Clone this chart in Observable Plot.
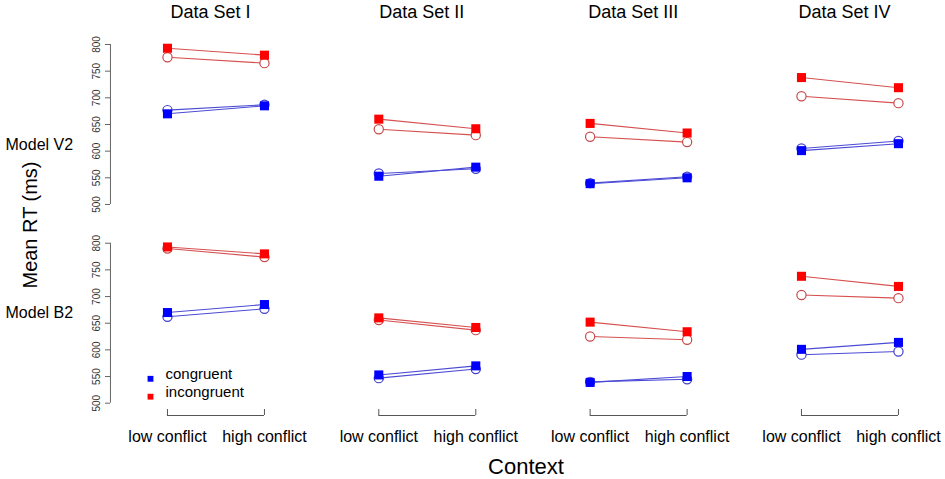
<!DOCTYPE html>
<html><head><meta charset="utf-8">
<script src="https://cdn.jsdelivr.net/npm/d3@7"></script>
<script src="https://cdn.jsdelivr.net/npm/@observablehq/plot@0.6"></script>
<style>
body{margin:0;background:#fff;font-family:"Liberation Sans",Arial,sans-serif;}
#wrap{position:relative;width:945px;height:479px;overflow:hidden;}
.lab{position:absolute;color:#000;white-space:nowrap;transform:translate(-50%,-50%);}
</style></head><body><div id="wrap"></div>
<script>
const datasets = ["Data Set I", "Data Set II", "Data Set III", "Data Set IV"];
const models = ["Model V2", "Model B2"];
const contexts = ["low conflict", "high conflict"];
const conditions = ["congruent", "incongruent"];
const yTicks = [500, 550, 600, 650, 700, 750, 800];

// observed means (filled squares), per data set: [low conflict, high conflict]
const obsCongruent   = [[670, 685], [553, 570], [539, 550], [601, 614]];
const obsIncongruent = [[793, 780], [660, 642], [652, 634], [738, 719]];
// model predictions (open circles)
const v2Congruent    = [[677, 687], [558, 567], [540, 552], [605, 619]];
const v2Incongruent  = [[776, 765], [641, 630], [627, 617], [703, 690]];
const b2Congruent    = [[662, 677], [547, 564], [540, 545], [591, 597]];
const b2Incongruent  = [[790, 774], [656, 637], [625, 619], [703, 697]];

const predictions = {
  "Model V2": {congruent: v2Congruent, incongruent: v2Incongruent},
  "Model B2": {congruent: b2Congruent, incongruent: b2Incongruent}
};
const observed = {congruent: obsCongruent, incongruent: obsIncongruent};

const rows = [];
for (const model of models) {
  datasets.forEach((dataset, i) => {
    for (const condition of conditions) {
      contexts.forEach((context, j) => {
        rows.push({model, dataset, condition, source: "observed", series: condition + "-obs", context, rt: observed[condition][i][j]});
        rows.push({model, dataset, condition, source: "model", series: condition + "-mod", context, rt: predictions[model][condition][i][j]});
      });
    }
  });
}

const fill = {congruent: "#0000ff", incongruent: "#ff0000"};
const lineCol = {congruent: "#4b4bd6", incongruent: "#d65050"};
const circCol = {congruent: "#4040c8", incongruent: "#c84a4a"};

const marks = [
  Plot.axisFx({anchor: "top", tickSize: 0, tickPadding: 27, fontSize: 18, label: null, fill: "#000"}),
  Plot.axisY(yTicks, {anchor: "left", tickSize: 5, tickPadding: 6, tickRotate: -90, fontSize: 10, stroke: "#666", fill: "#333", label: null}),
  Plot.ruleX(models, {fx: () => datasets[0], fy: d => d, x: () => contexts[0], y1: yTicks[0], y2: yTicks[yTicks.length - 1], dx: -57, stroke: "#666"}),
  Plot.axisX({anchor: "bottom", tickSize: 6, tickPadding: 15, dy: 6.3, fontSize: 16, stroke: "#555", fill: "#000", label: null}),
  Plot.ruleY(datasets, {fx: d => d, fy: () => models[1], y: () => yTicks[0], x1: () => contexts[0], x2: () => contexts[1], dy: 12.3, stroke: "#555"})
];

for (const c of conditions) {
  const sub = rows.filter(d => d.condition === c);
  marks.push(Plot.line(sub, {fx: "dataset", fy: "model", x: "context", y: "rt", z: "series", stroke: lineCol[c], strokeWidth: 1.1}));
}
for (const c of conditions) {
  const sub = rows.filter(d => d.condition === c && d.source === "model");
  marks.push(Plot.dot(sub, {fx: "dataset", fy: "model", x: "context", y: "rt", r: 4.6, fill: "white", stroke: circCol[c], strokeWidth: 1.2}));
}
for (const c of conditions) {
  const sub = rows.filter(d => d.condition === c && d.source === "observed");
  marks.push(Plot.dot(sub, {fx: "dataset", fy: "model", x: "context", y: "rt", symbol: "square", r: 5.1, fill: fill[c]}));
}

// model labels
marks.push(Plot.text([models[0]], {fx: () => datasets[0], fy: d => d, text: d => d, frameAnchor: "top-left", textAnchor: "start", dx: -105, dy: 94, fontSize: 16, fill: "#000"}));
marks.push(Plot.text([models[1]], {fx: () => datasets[0], fy: d => d, text: d => d, frameAnchor: "top-left", textAnchor: "start", dx: -105, dy: 63, fontSize: 16, fill: "#000"}));

// legend
const legendDy = {congruent: -24.4, incongruent: -6.5};
for (const c of conditions) {
  marks.push(Plot.dot([c], {fx: () => datasets[0], fy: () => models[1], frameAnchor: "bottom-left", dx: 40, dy: legendDy[c], symbol: "square", r: 3.3, fill: fill[c]}));
  marks.push(Plot.text([c], {fx: () => datasets[0], fy: () => models[1], text: d => d, frameAnchor: "bottom-left", textAnchor: "start", dx: 55, dy: legendDy[c], fontSize: 15, fill: "#000"}));
}

const chart = Plot.plot({
  width: 945,
  height: 479,
  marginLeft: 110,
  marginRight: 1,
  marginTop: 44,
  marginBottom: 76.3,
  style: {fontFamily: "Liberation Sans, Arial, sans-serif", background: "white", color: "#000"},
  fx: {domain: datasets, paddingInner: 0.0536, paddingOuter: 0, round: false, axis: null},
  fy: {domain: models, paddingInner: 0.195, paddingOuter: 0, round: false, axis: null},
  x: {type: "point", domain: contexts, padding: 0.531, align: 0.553, round: false},
  y: {domain: [yTicks[0], yTicks[yTicks.length - 1]]},
  marks
});

const wrap = document.getElementById("wrap");
wrap.appendChild(chart);
const yl = document.createElement("div");
yl.className = "lab";
yl.style.cssText = "left:30px;top:225px;font-size:20px;transform:translate(-50%,-50%) rotate(-90deg);";
yl.textContent = "Mean RT (ms)";
wrap.appendChild(yl);
const xl = document.createElement("div");
xl.className = "lab";
xl.style.cssText = "left:526px;top:467px;font-size:22px;";
xl.textContent = "Context";
wrap.appendChild(xl);
</script></body></html>
